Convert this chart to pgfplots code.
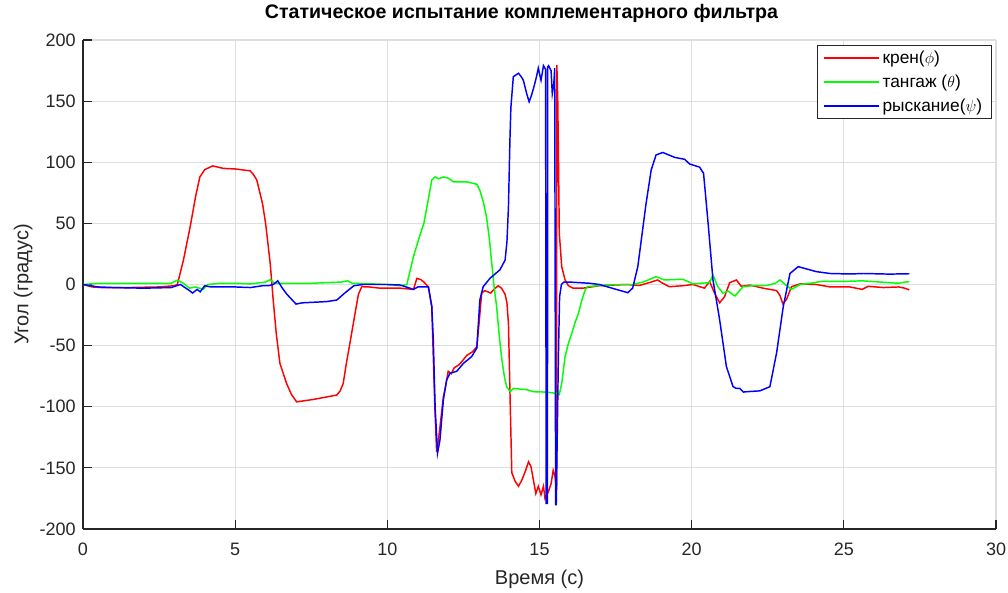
\documentclass[border=0pt]{standalone}
\usepackage{fontspec}
\setmainfont{Liberation Sans}
\usepackage{pgfplots}
\pgfplotsset{compat=1.18}
\definecolor{axcol}{RGB}{38,38,38}
\definecolor{gridcol}{RGB}{222,222,222}
\begin{document}
\begin{tikzpicture}
\begin{axis}[
 scale only axis, width=684.75pt, height=366.75pt,
 xmin=0, xmax=30, ymin=-200, ymax=200,
 xtick={0,5,...,30}, ytick={-200,-150,...,200},
 axis x line*=bottom, axis y line*=left,
 axis line style={-, color=axcol, line width=0.8pt},
 grid=major, major grid style={color=gridcol, line width=0.8pt},
 tick align=inside, major tick length=7pt, tick style={color=axcol, line width=0.8pt},
 /pgf/number format/assume math mode=true,
 ticklabel style={font=\fontsize{13.5}{15}\selectfont, color=axcol},
 xticklabel style={yshift=-7pt},
 yticklabel style={xshift=-2pt},
 xlabel={Время (с)}, ylabel={Угол (градус)},
 label style={font=\fontsize{15}{18}\selectfont, color=axcol},
 xlabel style={at={(0.5,-0.1145)}, anchor=base},
 ylabel style={at={(-0.0599,0.5)}, anchor=base},
 title={\textbf{Статическое испытание комплементарного фильтра}},
 title style={font=\fontsize{14.7}{17}\selectfont, at={(0.4803,1.0266)}, anchor=base, yshift=0pt},
 legend style={at={(0.9956,0.9898)}, anchor=north east, draw=axcol, line width=0.8pt,
   font=\fontsize{13}{16}\selectfont, inner xsep=5pt, inner ysep=2pt, row sep=3pt},
 legend cell align=left,
 legend image code/.code={\draw[#1] (0pt,0pt) -- (41pt,0pt);},
 every axis plot/.append style={line width=1.1pt},
]
\addplot[red] coordinates {
(0,0) (0.3,-2) (0.6,-2.5) (1.5,-2.5) (2.5,-2) (3.0,-1) (3.1,0) (3.3,20) (3.52,47) (3.7,72) (3.84,88) (4.0,94) (4.26,97) (4.61,95) (5.0,94.5) (5.49,93) (5.6,90) (5.71,85.5) (5.9,66) (6.0,50) (6.15,17.6) (6.25,-12.7) (6.35,-40) (6.47,-64.5) (6.69,-81) (6.85,-90) (7.02,-96) (7.3,-95) (7.57,-94) (8.0,-92) (8.34,-90.4) (8.45,-87) (8.55,-81) (8.65,-65) (8.77,-48) (8.94,-23.6) (9.05,-8) (9.16,-1.8) (9.4,-2) (9.76,-3) (10.0,-3) (10.42,-3) (10.86,-4) (10.97,5) (11.1,4) (11.2,2) (11.35,-2) (11.46,-18) (11.51,-59) (11.56,-100) (11.62,-137) (11.68,-127) (11.76,-110) (11.84,-92) (11.9,-85) (12.0,-71) (12.1,-73) (12.2,-68) (12.34,-66) (12.45,-63) (12.61,-58) (12.8,-55) (12.94,-51) (13.02,-30) (13.1,-7) (13.2,-5) (13.3,-6) (13.4,-7) (13.5,-4) (13.64,-1) (13.75,-3) (13.87,-8) (13.93,-15) (13.98,-32) (14.04,-100) (14.09,-154) (14.2,-161) (14.31,-165) (14.42,-160) (14.53,-153) (14.64,-145) (14.72,-149) (14.8,-160) (14.88,-171) (14.96,-165) (15.05,-172) (15.13,-165) (15.18,-175) (15.29,-169.5) (15.38,-163) (15.45,-152) (15.51,-157) (15.56,-168) (15.57,179.5) (15.6,150) (15.62,110) (15.65,42) (15.73,14.6) (15.84,3.7) (15.95,-1) (16.1,-3) (16.43,-3) (16.97,-1) (17.4,-0.5) (17.85,0) (18.28,-0.8) (18.6,1.5) (18.88,3.7) (19.05,1) (19.27,-1.8) (19.71,-1) (20.04,0) (20.42,-3) (20.59,2.5) (20.75,-7) (20.92,-15) (21.08,-10) (21.25,1.5) (21.47,3.7) (21.63,-1.5) (21.91,-0.5) (22.35,-3) (22.79,-5) (22.9,-9) (23.0,-16) (23.12,-12) (23.28,-1.8) (23.56,0.5) (24.1,0) (24.55,-2) (25.2,-2) (25.6,-4) (25.8,-1.5) (26.3,-2.5) (26.8,-2) (27.0,-3) (27.15,-4.4)
};
\addlegendentry{крен($\phi$)}
\addplot[green] coordinates {
(0,0) (0.5,1) (1,1) (2,1) (2.9,1) (3.1,3.5) (3.3,1) (3.5,-3) (3.7,-2) (3.95,-4) (4.1,0) (4.5,1) (5,1) (5.5,0.5) (6.0,2) (6.15,4) (6.3,1) (7,1) (7.5,1) (8,1.5) (8.5,2) (8.7,3) (8.85,1) (9.5,0.5) (10,0) (10.42,-1) (10.64,0) (10.86,23) (11.03,37) (11.2,50) (11.35,70) (11.46,85.5) (11.57,88) (11.68,86.5) (11.84,88) (12.0,87) (12.17,84) (12.61,84) (12.94,82) (13.04,77) (13.15,68) (13.26,55) (13.35,38) (13.42,20) (13.5,0) (13.59,-18) (13.67,-40) (13.75,-59) (13.85,-76) (13.92,-83.6) (14.04,-87.7) (14.14,-85) (14.58,-86) (14.8,-87.7) (15.2,-88) (15.55,-89) (15.65,-90) (15.73,-81) (15.84,-59) (15.95,-48) (16.06,-40) (16.17,-31) (16.28,-23.6) (16.4,-12) (16.5,-4.5) (16.57,-1.8) (16.97,-0.8) (17.5,0) (18.06,0) (18.4,2) (18.6,4) (18.83,6.4) (19.1,3.7) (19.4,4) (19.71,4.3) (20.04,0.5) (20.3,1) (20.59,1.5) (20.7,7.8) (20.86,-1.8) (21.03,-7) (21.2,-5.5) (21.42,-9.4) (21.69,-1.8) (22.0,-1) (22.46,-0.8) (22.75,1) (22.9,3.7) (23.05,0.5) (23.28,-4) (23.56,0) (23.9,1) (24.2,2.3) (24.32,2.5) (25.0,2.5) (25.6,3) (26.2,2) (26.8,1) (27.0,2) (27.15,2.3)
};
\addlegendentry{тангаж ($\theta$)}
\addplot[blue] coordinates {
(0,0) (0.5,-2) (1,-2.5) (2,-3) (2.9,-2.5) (3.2,0) (3.5,-5) (3.6,-7) (3.75,-4) (3.85,-6) (4.0,-1) (4.2,-2) (5,-2) (5.5,-2.5) (5.9,-1) (6.1,-1) (6.25,0) (6.4,3) (6.55,-3) (6.7,-8) (7.0,-16) (7.2,-15) (8.0,-14) (8.34,-12.7) (8.6,-7) (8.9,-1) (9.2,0) (10,0) (10.42,-0.4) (10.86,-4) (11.0,-2) (11.35,-2) (11.46,-18) (11.51,-45) (11.57,-100) (11.65,-138) (11.73,-127) (11.84,-94.5) (11.95,-78) (12.06,-72.6) (12.28,-71) (12.5,-64.5) (12.77,-59) (12.94,-52) (13.04,-12.7) (13.15,-1.8) (13.37,5) (13.7,12) (13.87,20) (13.93,35) (13.98,63.6) (14.03,120) (14.06,145) (14.14,170) (14.2,171) (14.31,172.8) (14.4,170) (14.47,167) (14.58,156) (14.66,149.5) (14.74,155) (14.82,162) (14.91,171) (14.96,177) (15.05,167) (15.13,179) (15.2,176) (15.22,-179) (15.26,-179) (15.27,178) (15.3,179) (15.38,175) (15.42,156) (15.47,164) (15.5,177) (15.53,-180) (15.55,-180) (15.62,-60) (15.66,-10) (15.72,0) (15.8,2) (15.99,2) (16.65,1) (16.97,0) (17.52,-4) (17.9,-6.7) (18.06,-3) (18.23,14.6) (18.5,66) (18.67,93.7) (18.83,106) (19.05,108) (19.44,104) (19.77,102.4) (19.93,98.6) (20.26,96) (20.39,91) (20.53,53) (20.7,3.7) (20.92,-29) (21.14,-67) (21.36,-83.6) (21.47,-85) (21.58,-85) (21.7,-88) (21.8,-87.7) (22.24,-87) (22.57,-83.6) (22.79,-56) (22.9,-37) (23.01,-18) (23.23,9) (23.5,14.6) (24.1,10.5) (24.55,9) (25.2,8.6) (25.65,9) (26.5,8.5) (27.15,8.8)
};
\addlegendentry{рыскание($\psi$)}
\end{axis}
\pgfresetboundingbox
\path ([shift={(-62.25pt,-47.25pt)}]current axis.south west) rectangle ([shift={(9pt,30pt)}]current axis.north east);
\end{tikzpicture}
\end{document}
